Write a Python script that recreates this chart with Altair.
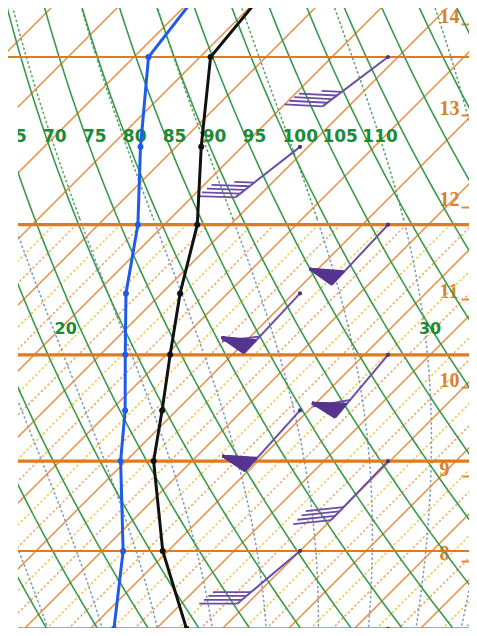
import math
import numpy as np
import pandas as pd
import altair as alt

# ---------------- values ----------------
ISOBARS_THICK = [200, 250, 300, 400]          # hPa
ISOBARS_THIN = [150, 350]
ISOTHERMS_C = list(range(-100, 25, 5))        # solid orange skewed isotherms
DRY_THETA_C = list(range(25, 160, 5))         # green dry adiabats (theta, degC)
THETA_LABELS = [65, 70, 75, 80, 85, 90, 95, 100, 105, 110]
THETA_LABEL_P = 172.0
MOIST_THETAW_C = list(range(8, 40, 2))        # dotted pseudo-adiabats (theta-w)
THETAW_LABELS = ["20", "30"]
THETAW_LABEL_T = [-49.6, -22.0]
THETAW_LABEL_P = [239.0, 239.0]

PROFILE_P = [130, 150, 175, 200, 225, 250, 275, 300, 350, 400, 425]
TEMP_C = [-60.3, -59.2, -53.1, -47.5, -43.6, -39.7, -36.1, -32.9, -25.4, -17.7, -14.5]
DEWPT_C = [-65.3, -63.9, -57.7, -52.0, -47.7, -43.1, -38.9, -35.4, -28.4, -23.2, -21.0]
DOT_P = [150, 175, 200, 225, 250, 275, 300, 350, 400]

HEIGHT_KM = [8, 9, 10, 11, 12, 13, 14]
HEIGHT_P = [356.0, 308.0, 264.4, 227.0, 194.0, 165.8, 141.7]

WIND_P = [150, 175, 200, 225, 250, 275, 300, 350, 400]
WIND_DIR = [233, 232, 223, 223, 220, 222, 224, 230, 226]
WIND_KT = [45, 45, 50, 60, 60, 50, 40, 40, 40]

# ---------------- diagram geometry (layout) ----------------
PX_PER_C = 13.2
X_OFF = 992.0
PX_PER_LNP = 583.0
P_REF = 150.0
Y_REF = 57.0
W, H = 461, 620
ORIGIN = 8
SKEW = PX_PER_LNP / PX_PER_C
BARB_COL_PX = [388.0, 300.0]

X_MIN = (ORIGIN - X_OFF) / PX_PER_C
X_MAX = (ORIGIN + W - X_OFF) / PX_PER_C
P_TOP = P_REF * math.exp((ORIGIN - Y_REF) / PX_PER_LNP)
P_BOT = P_REF * math.exp((ORIGIN + H - Y_REF) / PX_PER_LNP)


def skew_x(t, p):
    return np.asarray(t, float) - SKEW * np.log(np.asarray(p, float) / P_REF)


def unscreen(xr, yr):
    return (xr - X_OFF) / PX_PER_C, P_REF * math.exp((yr - Y_REF) / PX_PER_LNP)


def y_screen(p):
    return Y_REF + PX_PER_LNP * math.log(p / P_REF)


# ---------------- derived tables ----------------
P_GRID = np.exp(np.linspace(math.log(118), math.log(470), 60))

iso = pd.DataFrame([{"k": t, "p": p, "x": float(skew_x(t, p))}
                    for t in ISOTHERMS_C for p in (118, 470)])

low_y, low_o = [], []
for t in ISOTHERMS_C:
    for p in (200, 470):
        low_y.append({"k": t, "p": p, "x": float(skew_x(t + 5 / 3, p))})
        low_o.append({"k": t, "p": p, "x": float(skew_x(t + 10 / 3, p))})
low_y = pd.DataFrame(low_y)
low_o = pd.DataFrame(low_o)

dry = []
for th in DRY_THETA_C:
    for p in P_GRID:
        t = (th + 273.15) * (p / 1000.0) ** 0.2857 - 273.15
        dry.append({"k": th, "p": p, "x": float(skew_x(t, p))})
dry = pd.DataFrame(dry)


def lapse(p, T):
    tc = T - 273.15
    es = 6.112 * math.exp(17.67 * tc / (tc + 243.5))
    rs = 0.622 * es / (p - es)
    return (287.04 * T + 2.501e6 * rs) / (p * (1005.7 + 2.501e6 ** 2 * rs * 0.622 / (287.04 * T * T)))


moist = []
for tw in MOIST_THETAW_C:
    T = tw + 273.15
    p = 1000.0
    dp = -2.0
    while p > 116:
        k1 = lapse(p, T)
        k2 = lapse(p + dp / 2, T + dp / 2 * k1)
        T += dp * k2
        p += dp
        if p <= 470 and int(round(p)) % 6 == 0:
            moist.append({"k": tw, "p": p, "x": float(skew_x(T - 273.15, p))})
moist = pd.DataFrame(moist)
moist_top = moist[moist.p <= 202]
moist_bot = moist[moist.p >= 198]

theta_lab = []
for th in THETA_LABELS:
    t = (th + 273.15) * (THETA_LABEL_P / 1000.0) ** 0.2857 - 273.15
    theta_lab.append({"txt": str(th), "p": THETA_LABEL_P, "x": float(skew_x(t, THETA_LABEL_P))})
theta_lab = pd.DataFrame(theta_lab)

thw_lab = pd.DataFrame({"txt": THETAW_LABELS, "p": THETAW_LABEL_P,
                        "x": skew_x(THETAW_LABEL_T, THETAW_LABEL_P)})

temp = pd.DataFrame({"i": range(len(PROFILE_P)), "p": PROFILE_P, "x": skew_x(TEMP_C, PROFILE_P)})
dewp = pd.DataFrame({"i": range(len(PROFILE_P)), "p": PROFILE_P, "x": skew_x(DEWPT_C, PROFILE_P)})
temp_dots = temp[temp.p.isin(DOT_P)]
dewp_dots = dewp[dewp.p.isin(DOT_P)]

# wind barbs
staff, feath, penn, bases = [], [], [], []
L = 82.0


def seg(lst, x1, y1, x2, y2):
    a, b = unscreen(x1, y1)
    c, e = unscreen(x2, y2)
    lst.append({"x": a, "p": b, "x2": c, "p2": e})


for i, (p, d, v) in enumerate(zip(WIND_P, WIND_DIR, WIND_KT)):
    bx = BARB_COL_PX[i % 2]
    by = y_screen(p)
    ux, uy = math.sin(math.radians(d)), -math.cos(math.radians(d))
    tx, ty = bx + L * ux, by + L * uy
    th = math.atan2(uy, ux)
    fa = th + math.radians(40)
    pa = th + math.radians(65)
    seg(staff, bx, by, tx, ty)
    bx_d, by_d = unscreen(bx, by)
    bases.append({"x": bx_d, "p": by_d})
    n50 = v // 50
    rem = v - 50 * n50
    n10 = rem // 10
    n5 = 1 if rem % 10 >= 5 else 0
    pos = 0.0
    for _ in range(n50):
        mx, my = tx - (pos + 9) * ux, ty - (pos + 9) * uy
        ax, ay = mx + 30 * math.cos(pa), my + 30 * math.sin(pa)
        for f in np.linspace(0, 1, 16):
            sx, sy = tx - (pos + 18 * f) * ux, ty - (pos + 18 * f) * uy
            seg(penn, sx, sy, ax, ay)
        pos += 23
    for _ in range(n10):
        sx, sy = tx - pos * ux, ty - pos * uy
        seg(feath, sx, sy, sx + 38 * math.cos(fa), sy + 38 * math.sin(fa))
        pos += 6
    if n5:
        sx, sy = tx - pos * ux, ty - pos * uy
        seg(feath, sx, sy, sx + 20 * math.cos(fa), sy + 20 * math.sin(fa))

staff = pd.DataFrame(staff)
feath = pd.DataFrame(feath)
penn = pd.DataFrame(penn)
bases = pd.DataFrame(bases)

mx0, mp0 = unscreen(ORIGIN - 5, 107)
mx1, _ = unscreen(18, 107)
mask = pd.DataFrame([{"x": mx0, "x2": mx1, "p": mp0, "p2": P_BOT * 1.05}])

# ---------------- encodings ----------------
label_expr = " : ".join(f"datum.value == {p} ? '{k}'" for p, k in zip(HEIGHT_P, HEIGHT_KM)) + " : ''"
XS = alt.Scale(domain=[X_MIN, X_MAX], nice=False, zero=False)
YS = alt.Scale(type="log", domain=[P_TOP, P_BOT], reverse=True, nice=False)
YAX = alt.Axis(orient="right", values=HEIGHT_P, labelExpr=label_expr, offset=-8,
               domain=False, grid=False, ticks=True, tickSize=8, tickWidth=2,
               tickColor="#df8a3a", labelPadding=-30, labelAlign="left",
               labelBaseline="alphabetic", labelOffset=-1, labelFont="Liberation Serif",
               labelFontSize=20, labelFontWeight="bold", labelColor="#d8802c",
               title=None, labelFlush=False, labelOverlap=False)


def X(f="x"):
    return alt.X(f"{f}:Q", scale=XS, axis=None)


def Y(f="p"):
    return alt.Y(f"{f}:Q", scale=YS, axis=YAX)


def lines(df, color, width, dash=None, order="p"):
    kw = dict(color=color, strokeWidth=width, clip=True)
    if dash:
        kw["strokeDash"] = dash
        kw["strokeCap"] = "round"
    return alt.Chart(df).mark_line(**kw).encode(
        x=X(), y=Y(), detail="k:N", order=alt.Order(f"{order}:Q"))


def rules(df, color, width):
    return alt.Chart(df).mark_rule(color=color, strokeWidth=width, clip=True).encode(
        x=X(), y=Y(), x2=alt.X2("x2:Q"), y2=alt.Y2("p2:Q"))


layers = [
    lines(low_y, "#f0c548", 1.5, [1.2, 3.4]),
    lines(low_o, "#efa460", 1.5, [1.2, 3.4]),
    lines(moist_bot, "#7f9cc0", 1.6, [1.2, 3.6]),
    lines(moist_top, "#5ea56c", 1.6, [1.2, 3.6]),
    lines(iso, "#e88a3a", 1.4),
    lines(dry, "#3a9a4c", 1.6),
    alt.Chart(pd.DataFrame({"p": ISOBARS_THIN})).mark_rule(color="#e07a1f", strokeWidth=2).encode(y=Y()),
    alt.Chart(pd.DataFrame({"p": ISOBARS_THICK})).mark_rule(color="#e07a1f", strokeWidth=3.2).encode(y=Y()),
    alt.Chart(theta_lab).mark_text(font="DejaVu Sans", fontWeight="bold", fontSize=17,
                                   color="#1d8a36", align="left", baseline="middle", dx=-3).encode(
        x=X(), y=Y(), text="txt:N"),
    alt.Chart(thw_lab).mark_text(font="DejaVu Sans", fontWeight="bold", fontSize=16,
                                 color="#1d8a36", align="center", baseline="middle").encode(
        x=X(), y=Y(), text="txt:N"),
    rules(staff, "#6b4fa6", 2),
    rules(feath, "#6a4ea6", 1.8),
    rules(penn, "#563591", 2.4),
    alt.Chart(bases).mark_circle(color="#4a3480", size=18, opacity=1).encode(x=X(), y=Y()),
    lines(dewp, "#1f5be8", 3, order="i"),
    alt.Chart(dewp_dots).mark_circle(color="#1f5be8", size=36, opacity=1).encode(x=X(), y=Y()),
    lines(temp, "#111111", 3, order="i"),
    alt.Chart(temp_dots).mark_circle(color="#111111", size=36, opacity=1).encode(x=X(), y=Y()),
    alt.Chart(mask).mark_rect(color="white", clip=True).encode(
        x=X(), x2=alt.X2("x2:Q"), y=Y(), y2=alt.Y2("p2:Q")),
]

chart = alt.layer(*layers).properties(
    width=W, height=H, padding=0, background="white",
    autosize=alt.AutoSizeParams(type="none")
).configure_view(stroke=None)

chart.save("out.html", embed_options={"renderer": "svg", "actions": False})
